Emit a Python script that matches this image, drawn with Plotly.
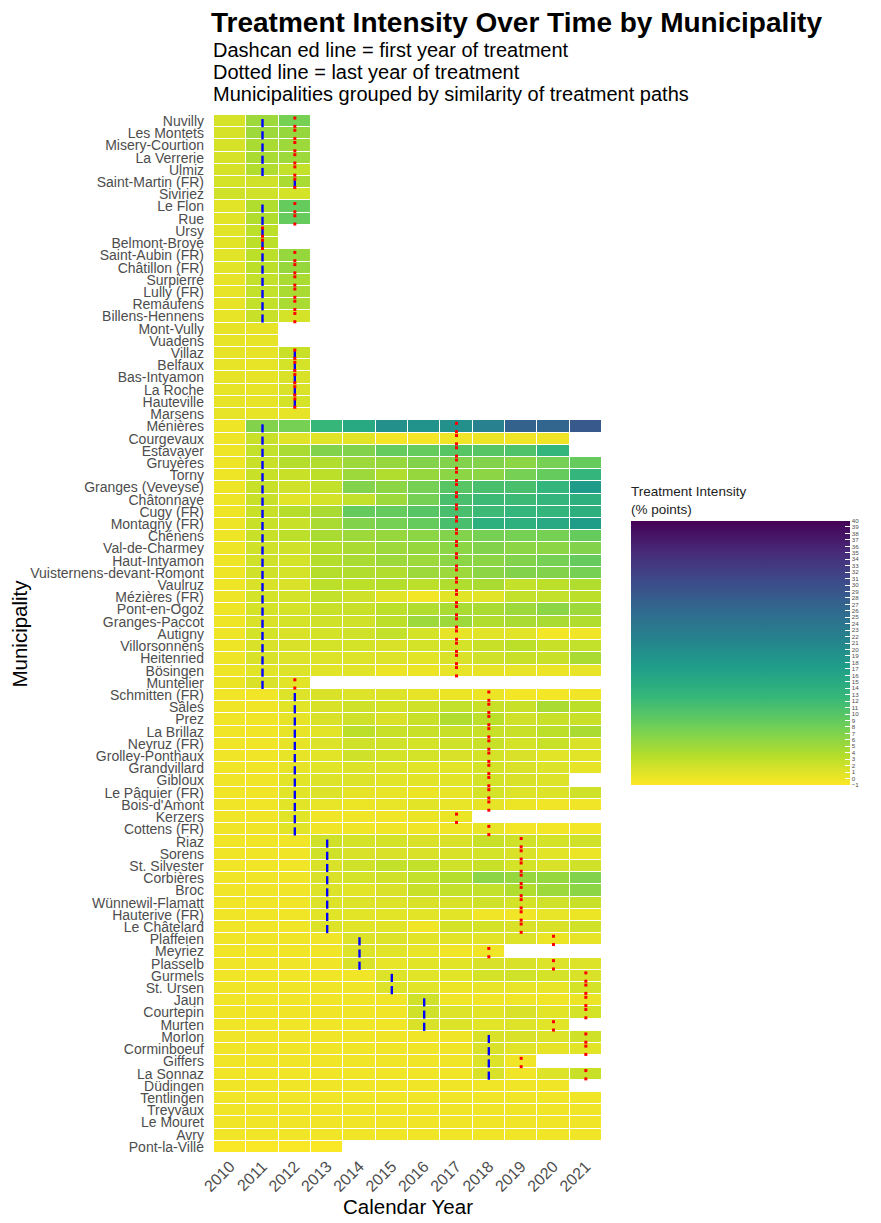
import plotly.graph_objects as go

# Municipalities in display order (top to bottom)
municipalities = [
    "Nuvilly", "Les Montets", "Misery-Courtion", "La Verrerie", "Ulmiz",
    "Saint-Martin (FR)", "Siviriez", "Le Flon", "Rue", "Ursy", "Belmont-Broye",
    "Saint-Aubin (FR)", "Châtillon (FR)", "Surpierre", "Lully (FR)", "Remaufens",
    "Billens-Hennens", "Mont-Vully", "Vuadens", "Villaz", "Belfaux",
    "Bas-Intyamon", "La Roche", "Hauteville", "Marsens", "Ménières",
    "Courgevaux", "Estavayer", "Gruyères", "Torny", "Granges (Veveyse)",
    "Châtonnaye", "Cugy (FR)", "Montagny (FR)", "Chénens", "Val-de-Charmey",
    "Haut-Intyamon", "Vuisternens-devant-Romont", "Vaulruz", "Mézières (FR)",
    "Pont-en-Ogoz", "Granges-Paccot", "Autigny", "Villorsonnens", "Heitenried",
    "Bösingen", "Muntelier", "Schmitten (FR)", "Sâles", "Prez", "La Brillaz",
    "Neyruz (FR)", "Grolley-Ponthaux", "Grandvillard", "Gibloux",
    "Le Pâquier (FR)", "Bois-d'Amont", "Kerzers", "Cottens (FR)", "Riaz",
    "Sorens", "St. Silvester", "Corbières", "Broc", "Wünnewil-Flamatt",
    "Hauterive (FR)", "Le Châtelard", "Plaffeien", "Meyriez", "Plasselb",
    "Gurmels", "St. Ursen", "Jaun", "Courtepin", "Murten", "Morlon",
    "Corminboeuf", "Giffers", "La Sonnaz", "Düdingen", "Tentlingen",
    "Treyvaux", "Le Mouret", "Avry", "Pont-la-Ville",
]

years = [2010, 2011, 2012, 2013, 2014, 2015, 2016, 2017, 2018, 2019, 2020, 2021]

N = None
# Treatment intensity (% points), one row per municipality, one column per year
intensity = [
    [1.5, 5.1, 7.6, N, N, N, N, N, N, N, N, N],
    [1.5, 5.1, 5.5, N, N, N, N, N, N, N, N, N],
    [1.5, 4.3, 5.1, N, N, N, N, N, N, N, N, N],
    [1.5, 4.3, 5.1, N, N, N, N, N, N, N, N, N],
    [1.5, 3.9, 2.7, N, N, N, N, N, N, N, N, N],
    [1.6, 1.9, 4.3, N, N, N, N, N, N, N, N, N],
    [1.9, 1.9, 1.6, N, N, N, N, N, N, N, N, N],
    [0.7, 3.9, 8.8, N, N, N, N, N, N, N, N, N],
    [0.7, 3.9, 8.8, N, N, N, N, N, N, N, N, N],
    [0.7, 3.1, N, N, N, N, N, N, N, N, N, N],
    [0.7, 3.1, N, N, N, N, N, N, N, N, N, N],
    [0.7, 3.1, 5.5, N, N, N, N, N, N, N, N, N],
    [0.7, 3.1, 5.5, N, N, N, N, N, N, N, N, N],
    [0.4, 2.7, 4.3, N, N, N, N, N, N, N, N, N],
    [0.4, 2.7, 4.3, N, N, N, N, N, N, N, N, N],
    [0.4, 2.7, 4.3, N, N, N, N, N, N, N, N, N],
    [0.4, 2.3, 1.6, N, N, N, N, N, N, N, N, N],
    [0.4, 0.4, N, N, N, N, N, N, N, N, N, N],
    [0.4, 0.4, N, N, N, N, N, N, N, N, N, N],
    [0.4, 0.4, 2.3, N, N, N, N, N, N, N, N, N],
    [0.4, 0.4, 1.6, N, N, N, N, N, N, N, N, N],
    [0.4, 0.4, 1.3, N, N, N, N, N, N, N, N, N],
    [0.4, 0.4, 1.3, N, N, N, N, N, N, N, N, N],
    [0.4, 0.4, 1.6, N, N, N, N, N, N, N, N, N],
    [0.4, 0.4, 0.4, N, N, N, N, N, N, N, N, N],
    [0.0, 6.8, 7.6, 12.6, 15.2, 19.5, 19.0, 19.5, 22.0, 27.0, 26.6, 28.5],
    [0.0, 2.3, 0.8, 0.7, 0.6, -0.4, -0.4, -0.2, 0.1, -0.1, -0.1, N],
    [0.0, 2.7, 4.3, 6.8, 6.8, 8.8, 8.8, 9.9, 9.9, 10.5, 13.1, N],
    [0.0, 2.3, 3.6, 3.9, 5.1, 5.5, 6.8, 6.8, 6.8, 6.2, 7.6, 8.8],
    [0.0, 2.3, 2.3, 3.1, 5.1, 3.9, 5.5, 6.2, 6.2, 7.6, 8.8, 13.1],
    [0.0, 2.3, 1.9, 2.7, 6.8, 6.2, 7.6, 9.9, 11.1, 11.1, 13.1, 17.5],
    [0.0, 2.3, 0.7, 1.6, 2.7, 5.1, 7.6, 11.1, 12.1, 12.1, 13.1, 14.2],
    [0.0, 2.3, 3.6, 4.3, 8.8, 8.8, 9.9, 11.1, 12.1, 13.1, 13.1, 14.2],
    [0.0, 2.3, 2.3, 4.3, 6.8, 7.6, 8.8, 11.1, 14.2, 14.2, 15.4, 17.4],
    [0.0, 2.3, 3.1, 4.3, 5.1, 5.5, 6.2, 6.8, 7.6, 7.6, 7.6, 8.8],
    [0.0, 1.9, 1.9, 3.6, 4.3, 5.1, 5.5, 6.2, 6.8, 6.2, 6.2, 6.8],
    [0.0, 1.9, 1.6, 3.6, 4.3, 5.1, 5.1, 6.2, 6.2, 6.8, 7.6, 8.8],
    [0.0, 1.9, 1.6, 3.6, 3.9, 3.9, 5.1, 5.1, 6.2, 6.8, 6.8, 7.6],
    [0.0, 1.3, 1.3, 3.1, 3.1, 3.6, 3.1, 3.9, 4.3, 2.7, 3.1, 3.9],
    [0.0, 1.6, 1.6, 2.7, 1.9, 0.7, -0.3, 0.7, 0.7, 2.7, 2.7, 3.1],
    [0.0, 1.6, 1.6, 2.3, 2.3, 3.1, 3.9, 4.3, 4.3, 5.1, 6.2, 5.1],
    [0.0, 1.3, 1.6, 1.9, 1.9, 3.1, 5.1, 5.1, 3.9, 4.3, 4.3, 3.9],
    [0.0, 1.6, 1.3, 1.6, 1.9, 2.7, 1.6, 0.4, 0.7, 0.7, -0.3, -0.2],
    [0.0, 1.3, 1.3, 1.6, 1.6, 1.3, 1.6, 1.6, 2.3, 3.1, 2.3, 2.7],
    [0.0, 1.3, 1.0, 1.0, 1.0, 1.0, 0.7, 1.3, 1.9, 2.3, 2.3, 4.3],
    [0.0, 0.7, 1.0, 0.7, 0.7, 0.1, 0.1, 0.3, 0.4, 0.3, 0.1, 0.3],
    [0.1, 1.3, 0.7, N, N, N, N, N, N, N, N, N],
    [-0.2, -0.2, 1.0, 1.3, 1.0, 1.0, 0.4, 0.1, 0.1, -0.3, -0.3, -0.2],
    [-0.2, -0.2, 0.7, 1.3, 1.9, 1.6, 1.9, 2.7, 2.3, 2.3, 4.3, 3.1],
    [-0.2, -0.2, 0.4, 1.3, 1.9, 1.3, 2.3, 3.9, 3.1, 1.9, 2.3, 2.3],
    [-0.2, -0.2, 0.4, 0.7, 3.1, 2.3, 2.3, 2.3, 2.3, 2.3, 3.1, 4.3],
    [-0.2, -0.2, 0.4, 1.0, 1.9, 1.9, 1.6, 1.9, 2.3, 1.6, 2.3, 1.3],
    [-0.2, -0.2, 0.4, 0.7, 1.9, 1.6, 1.6, 1.3, 1.6, 1.3, 0.7, 0.7],
    [-0.2, -0.2, 0.4, 0.7, 1.0, 1.0, 0.7, 0.7, 1.6, 1.3, 1.0, 0.4],
    [-0.2, -0.2, 0.7, 1.0, 1.0, 0.7, 0.7, 0.7, 1.6, 1.3, 1.0, N],
    [-0.2, -0.2, 0.7, 1.0, 0.4, 0.3, 0.1, 0.3, 1.6, 1.0, 1.0, 1.9],
    [-0.2, -0.2, 0.7, 0.3, 0.1, 0.3, 0.7, 0.3, 0.4, 0.1, -0.2, -0.2],
    [-0.2, -0.2, 0.7, -0.2, -0.2, -0.2, 0.1, 0.1, N, N, N, N],
    [-0.2, -0.2, 0.7, -0.2, -0.2, -0.2, -0.2, -0.2, 0.3, -0.3, -0.3, -0.3],
    [-0.2, -0.2, -0.2, 1.9, 1.6, 1.6, 1.3, 1.3, 2.3, 1.9, 1.6, 1.9],
    [-0.2, -0.2, -0.2, 1.9, 1.3, 1.3, 1.3, 1.3, 1.6, 1.3, 0.7, 0.1],
    [-0.2, -0.2, -0.2, 1.3, 1.9, 2.7, 2.7, 1.9, 2.3, 1.6, 1.3, 1.9],
    [-0.2, -0.2, -0.2, 1.3, 1.6, 1.9, 2.7, 3.6, 6.2, 5.5, 5.5, 6.8],
    [-0.2, -0.2, -0.2, 1.0, 0.7, 1.3, 2.3, 2.7, 2.7, 3.9, 5.1, 6.2],
    [-0.2, -0.2, -0.2, 1.0, 1.0, 1.0, 1.3, 1.3, 1.9, 1.6, 1.9, 2.3],
    [-0.2, -0.2, -0.2, 0.7, 0.7, 0.7, 0.7, 0.7, -0.2, -0.2, 0.3, 0.1],
    [-0.2, -0.2, -0.2, 1.0, 0.7, 0.7, -0.2, 1.6, 1.6, 1.3, 1.3, 1.9],
    [-0.2, -0.2, -0.2, -0.2, 1.0, 1.0, 0.7, 0.7, 0.7, 1.0, 0.1, 0.4],
    [-0.2, -0.2, -0.2, -0.2, 1.0, 0.7, 0.3, -0.2, -0.2, N, N, N],
    [-0.2, -0.2, -0.2, -0.2, 1.3, 0.3, 0.7, 0.7, 1.3, 1.3, 1.0, 1.0],
    [-0.2, -0.2, -0.2, -0.2, -0.2, 1.0, 0.7, 0.7, 1.6, 1.9, 1.6, 1.3],
    [-0.2, -0.2, -0.2, -0.2, -0.2, 1.0, 0.7, 0.1, 0.3, 0.3, 0.3, 1.6],
    [-0.2, -0.2, -0.2, -0.2, -0.2, -0.2, 1.9, -0.2, -0.2, -0.2, -0.2, 0.1],
    [-0.2, -0.2, -0.2, -0.2, -0.2, -0.2, 1.9, 1.0, 0.7, 1.3, 0.7, 1.6],
    [-0.2, -0.2, -0.2, -0.2, -0.2, -0.2, 1.3, 1.0, 0.7, 1.0, 0.7, N],
    [-0.2, -0.2, -0.2, -0.2, -0.2, -0.2, -0.2, -0.2, 1.3, 1.3, 1.0, 1.9],
    [-0.2, -0.2, -0.2, -0.2, -0.2, -0.2, -0.2, -0.2, 1.3, 0.7, 0.4, 0.7],
    [-0.2, -0.2, -0.2, -0.2, -0.2, -0.2, -0.2, -0.2, 1.0, -0.2, N, N],
    [-0.2, -0.2, -0.2, -0.2, -0.2, -0.2, -0.2, -0.2, 1.3, -0.2, 1.0, 2.3],
    [-0.2, -0.2, -0.2, -0.2, -0.2, -0.2, -0.2, -0.2, -0.2, -0.2, -0.2, N],
    [-0.2, -0.2, -0.2, -0.2, -0.2, -0.2, -0.2, -0.2, -0.2, -0.2, -0.2, -0.2],
    [-0.2, -0.2, -0.2, -0.2, -0.2, -0.2, -0.2, -0.2, -0.2, -0.2, -0.2, -0.2],
    [-0.2, -0.2, -0.2, -0.2, -0.2, -0.2, -0.2, -0.2, -0.2, -0.2, -0.2, -0.2],
    [-0.2, -0.2, -0.2, -0.2, -0.2, -0.2, -0.2, -0.2, -0.2, -0.2, -0.2, -0.2],
    [-0.8, -0.8, -0.8, -0.8, N, N, N, N, N, N, N, N],
]

# First / last year of treatment per municipality (None = never treated)
first_year = (
    [2011] * 5 + [2012, None, 2011, 2011, 2011, 2011] + [2011] * 6
    + [None, None] + [2012] * 5 + [None]
    + [2011] * 22
    + [2012] * 12
    + [2013] * 8
    + [2014] * 3 + [2015] * 2 + [2016] * 3 + [2018] * 4
    + [None] * 6
)
last_year = (
    [2012] * 5 + [2012, None, 2012, 2012, 2011, 2011] + [2012] * 6
    + [None, None] + [2012] * 5 + [None]
    + [2017] * 21 + [2012]
    + [2018] * 10 + [2017, 2018]
    + [2019] * 8
    + [2020, 2018, 2020, 2021, 2021, 2021, 2021, 2020, 2021, 2021, 2019, 2021]
    + [None] * 6
)

rows = list(range(len(municipalities)))

fig = go.Figure()

fig.add_trace(go.Heatmap(
    z=intensity,
    x=years,
    y=rows,
    colorscale="Viridis_r",
    zmin=-1,
    zmax=40,
    xgap=1,
    ygap=1,
    hoverongaps=False,
    colorbar=dict(
        title=dict(text="Treatment Intensity<br>(% points)", side="top",
                   font=dict(size=13.5, color="#222")),
        thickness=219,
        len=302,
        lenmode="pixels",
        x=1.075,
        xanchor="left",
        y=0.5,
        yanchor="middle",
        xpad=0,
        ypad=0,
        outlinewidth=0,
        tick0=-1,
        dtick=1,
        ticks="inside",
        ticklen=5,
        tickcolor="white",
        tickfont=dict(size=6.2, color="#4d4d4d"),
    ),
))

# dashed blue marks: first year of treatment
bx, by = [], []
for i, fy in enumerate(first_year):
    if fy is None:
        continue
    bx += [fy, fy, None]
    by += [i - 0.17, i + 0.5, None]

fig.add_trace(go.Scatter(
    x=bx, y=by, mode="lines",
    line=dict(color="#0000ff", width=2.4),
    hoverinfo="skip", showlegend=False,
))

# dotted red marks: last year of treatment
rx, ry = [], []
for i, ly in enumerate(last_year):
    if ly is None:
        continue
    rx += [ly, ly]
    ry += [i - 0.25, i + 0.43]

fig.add_trace(go.Scatter(
    x=rx, y=ry, mode="markers",
    marker=dict(color="#ff0000", size=3, symbol="square", line=dict(width=0)),
    hoverinfo="skip", showlegend=False,
))

subtitle_lines = [
    "Dashcan ed line = first year of treatment",
    "Dotted line = last year of treatment",
    "Municipalities grouped by similarity of treatment paths",
]
for k, line in enumerate(subtitle_lines):
    fig.add_annotation(
        text=line, xref="paper", yref="paper",
        x=-0.008, y=1 + (65 - 22 * k) / 1038,
        xanchor="left", yanchor="middle", showarrow=False,
        font=dict(size=20, color="#000"),
    )

fig.update_layout(
    width=881,
    height=1223,
    margin=dict(l=206, r=287, t=107, b=78, autoexpand=False),
    paper_bgcolor="white",
    plot_bgcolor="white",
    font=dict(family="Liberation Sans, Arial, sans-serif"),
    title=dict(
        text="<b>Treatment Intensity Over Time by Municipality</b>",
        x=203 / 881, xref="container", xanchor="left",
        y=1 - 14 / 1223, yref="container", yanchor="middle",
        font=dict(size=28, color="#000"),
    ),
    xaxis=dict(
        range=[2009.5, 2021.5],
        tickvals=years,
        tickangle=-45,
        tickfont=dict(size=16, color="#4d4d4d"),
        showgrid=False, zeroline=False, showline=False, automargin=False,
        title=dict(text="Calendar Year", font=dict(size=20.5, color="#000"), standoff=4),
    ),
    yaxis=dict(
        range=[len(municipalities) - 0.5, -0.5],
        tickvals=rows,
        ticktext=municipalities,
        tickfont=dict(size=14, color="#4d4d4d"),
        ticklabelstandoff=9,
        showgrid=False, zeroline=False, showline=False, automargin=False,
        title=dict(text="Municipality", font=dict(size=20.5, color="#000"), standoff=4),
    ),
)

fig.write_html("out.html")
